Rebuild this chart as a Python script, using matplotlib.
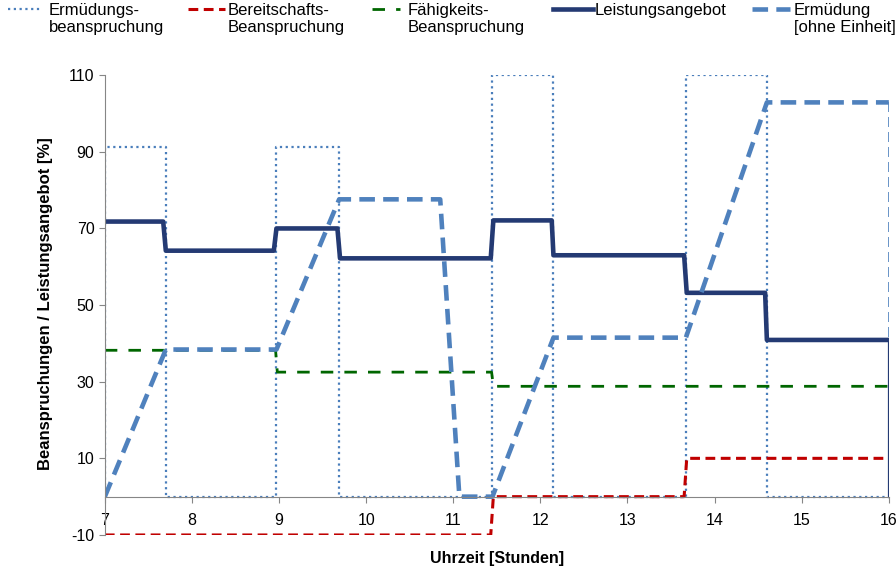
import numpy as np
import matplotlib
matplotlib.use("Agg")
import matplotlib.pyplot as plt
from matplotlib.legend_handler import HandlerLine2D

plt.rcParams['font.family'] = ['Liberation Sans', 'DejaVu Sans']
plt.rcParams['axes.unicode_minus'] = False

# Ermuedungsbeanspruchung (dotted)
t_erm_b = [7.0, 7.0, 7.70, 7.70, 8.97, 8.97, 9.69, 9.69, 11.45, 11.45, 12.15, 12.15, 13.67, 13.67, 14.60, 14.60, 16.0]
v_erm_b = [0, 91.2, 91.2, 0, 0, 91.2, 91.2, 0, 0, 110, 110, 0, 0, 110, 110, 0, 0]

# Bereitschafts-Beanspruchung
t_ber = [7.0, 11.43, 11.46, 13.65, 13.68, 16.0]
v_ber = [-10, -10, 0, 0, 10, 10]

# Faehigkeits-Beanspruchung
t_fae = [7.0, 8.96, 8.98, 11.44, 11.46, 16.0]
v_fae = [38.2, 38.2, 32.5, 32.5, 28.8, 28.8]

# Leistungsangebot
t_lei = [7.0, 7.67, 7.70, 8.94, 8.97, 9.67, 9.70, 11.43, 11.46, 12.13, 12.15, 13.65, 13.68, 14.58, 14.60, 16.0]
v_lei = [71.8, 71.8, 64.2, 64.2, 70.0, 70.0, 62.2, 62.2, 72.1, 72.1, 63.0, 63.0, 53.2, 53.2, 40.9, 40.9]

# Ermuedung [ohne Einheit]
t_erm = [7.0, 7.70, 8.97, 9.69, 10.85, 11.07, 11.45, 12.15, 13.67, 14.60, 16.0]
v_erm = [0, 38.4, 38.4, 77.6, 77.6, 0, 0, 41.5, 41.5, 102.9, 102.9]

c_dot = '#4A7EBB'
c_red = '#C00000'
c_green = '#006600'
c_navy = '#243A73'
c_erm = '#4F81BD'


class FirstLineHandler(HandlerLine2D):
    # put the legend line next to the first text line (excel style)
    def __init__(self, shift=0.0, **kw):
        super().__init__(**kw)
        self.shift = shift

    def create_artists(self, legend, orig_handle, xdescent, ydescent, width, height, fontsize, trans):
        return super().create_artists(legend, orig_handle, xdescent, ydescent - self.shift * fontsize,
                                      width, height, fontsize, trans)


fig = plt.figure(figsize=(8.96, 5.74), dpi=100)
ax = fig.add_axes([0.117, 0.068, 0.875, 0.801])

l1, = ax.plot(t_erm_b, v_erm_b, color=c_dot, lw=1.6, ls=(0, (1, 1.6)), label='Ermüdungs-\nbeanspruchung')
l2, = ax.plot(t_ber, v_ber, color=c_red, lw=2.2, ls=(0, (3.2, 1.8)), label='Bereitschafts-\nBeanspruchung')
l3, = ax.plot(t_fae, v_fae, color=c_green, lw=2.0, ls=(0, (4.5, 4)), label='Fähigkeits-\nBeanspruchung')
# end drops at 16h
ax.plot([t_erm[-1], t_erm[-1]], [v_erm[-1], 0], color=c_erm, lw=1.2, ls=(0, (6, 3)))
ax.plot([t_lei[-1], t_lei[-1]], [v_lei[-1], 0], color=c_navy, lw=1.6)
l4, = ax.plot(t_lei, v_lei, color=c_navy, lw=3.3, label='Leistungsangebot')
l5, = ax.plot(t_erm, v_erm, color=c_erm, lw=3.3, ls=(0, (3.4, 1.8)), label='Ermüdung\n[ohne Einheit]')

ax.set_xlim(7, 16)
ax.set_ylim(-10, 110)
ax.set_xticks(range(7, 17))
ax.set_yticks(range(-10, 111, 20))

for s in ['top', 'right']:
    ax.spines[s].set_visible(False)
ax.spines['bottom'].set_position(('data', 0))
ax.spines['bottom'].set_color('#868686')
ax.spines['left'].set_color('#868686')
ax.tick_params(axis='both', colors='#868686', labelcolor='black', labelsize=11.5, length=4)
ax.tick_params(axis='x', pad=8)

ax.set_xlabel('Uhrzeit [Stunden]', fontsize=11.5, fontweight='bold')
ax.xaxis.set_label_coords(0.5, -0.035)
ax.set_ylabel('Beanspruchungen / Leistungsangebot [%]', fontsize=12, fontweight='bold')
ax.yaxis.set_label_coords(-0.066, 0.503)

# one legend per entry, spread along the top like the original
leg_x = [8, 188, 372, 553, 752]
leg_len = [2.0, 2.2, 1.7, 2.4, 2.3]
leg_pad = [0.45, 0.2, 0.45, 0.1, 0.2]
for h, x, hl, hp in zip([l1, l2, l3, l4, l5], leg_x, leg_len, leg_pad):
    two_lines = '\n' in h.get_label()
    leg = fig.legend(handles=[h], loc='upper left', bbox_to_anchor=(x / 896, 0.995),
                     frameon=False, fontsize=12, handlelength=hl, handletextpad=hp,
                     borderaxespad=0, borderpad=0,
                     handler_map={h: FirstLineHandler(shift=1.2 if two_lines else 0.0)})

fig.savefig('out.png', dpi=100)
